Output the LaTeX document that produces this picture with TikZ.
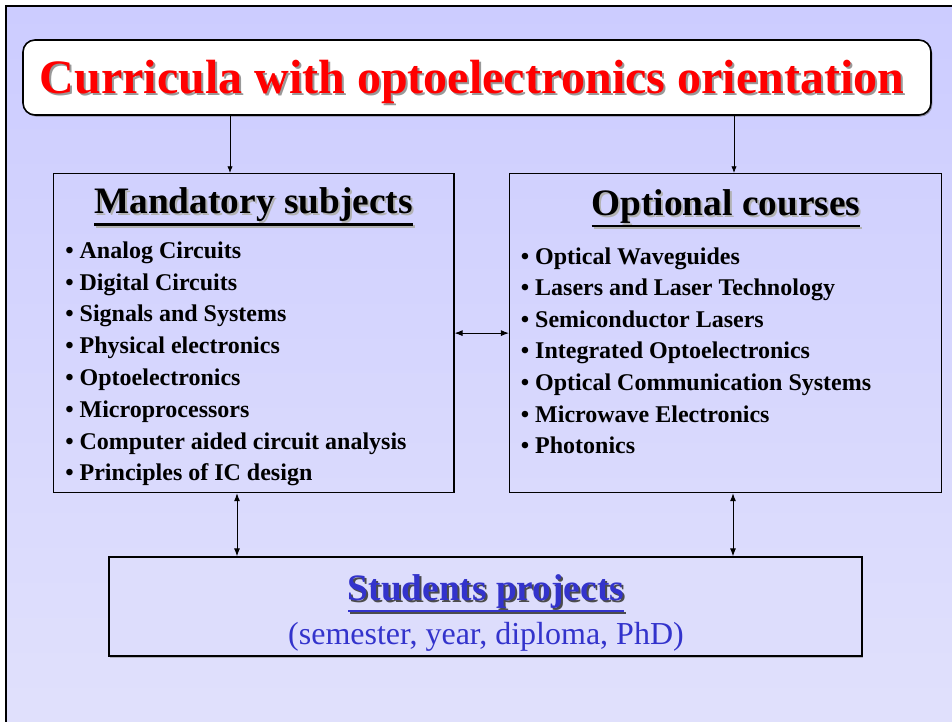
\documentclass[tikz,border=0pt]{standalone}
\usepackage{fontspec}
\setmainfont{Liberation Serif}
\usetikzlibrary{arrows.meta,shadows}
\definecolor{framtop}{RGB}{204,204,255}
\definecolor{frambot}{RGB}{225,225,252}
\definecolor{projfill}{RGB}{221,221,252}
\definecolor{titlered}{RGB}{255,0,0}
\definecolor{projblue}{RGB}{51,51,204}
\newcommand{\ulbox}[1]{\vtop{\hbox{#1}\kern1.2pt\hrule height 2.2pt}}
\newcommand{\shtext}[3]{\makebox[0pt][l]{\hspace{1.5pt}\raisebox{-1.5pt}{\color{#2}#3}}{\color{#1}#3}}
\begin{document}
\begin{tikzpicture}[x=0.75pt,y=-0.75pt,
  box/.style={draw, line width=0.8pt, inner sep=0pt, minimum height=239.4pt},
  titlebox/.style={draw, fill=white, line width=1.2pt, rounded corners=9pt,
    minimum width=681pt, minimum height=56.25pt,
    drop shadow={shadow xshift=1pt, shadow yshift=-1.2pt, fill=black!60, opacity=0.6}},
  projbox/.style={draw, fill=projfill, line width=1.5pt, minimum width=564.75pt, minimum height=74pt,
    drop shadow={shadow xshift=1pt, shadow yshift=-1.2pt, fill=black!50, opacity=0.5}},
  head/.style={anchor=base, inner sep=0pt, font=\fontsize{28}{32}\selectfont\bfseries},
  item/.style={anchor=base west, inner sep=0pt, font=\fontsize{18}{20}\selectfont\bfseries},
  arr/.style={-{Latex[length=5pt,width=4pt]}, line width=0.6pt},
  darr/.style={{Latex[length=6pt,width=4.5pt]}-{Latex[length=6pt,width=4.5pt]}, line width=0.7pt}]
\useasboundingbox (0,0) rectangle (952,721);
\clip (0,0) rectangle (952,721);
\draw[line width=1.5pt, top color=framtop, bottom color=frambot] (6,6) rectangle (970,740);

\node[titlebox] (title) at (477,77.5) {};
\node[anchor=base, inner sep=0pt, font=\fontsize{36}{40}\selectfont\bfseries] (titletxt) at (472,93)
  {\shtext{titlered}{gray!80}{Curricula with optoelectronics orientation}};

\node[box, minimum width=300.4pt] (mand) at (253.75,333.1) {};
\node[box, minimum width=324.2pt] (opt) at (725.6,333.1) {};
\node[projbox] (studs) at (485.5,606.7) {};

\node[head] (mhead) at (253.5,213) {\shtext{black}{gray!60}{\ulbox{Mandatory subjects}}};
\node[head] (ohead) at (726,215) {\shtext{black}{gray!60}{\ulbox{Optional courses}}};

\foreach \t [count=\i] in {Analog Circuits, Digital Circuits, Signals and Systems,
  Physical electronics, Optoelectronics, Microprocessors,
  Computer aided circuit analysis, Principles of IC design}
  \node[item] (m\i) at (65,226.5+31.8*\i) {\textbullet\ \t};

\foreach \t [count=\i] in {Optical Waveguides, Lasers and Laser Technology,
  Semiconductor Lasers, Integrated Optoelectronics,
  Optical Communication Systems, Microwave Electronics, Photonics}
  \node[item] (o\i) at (520.5,232.4+31.6*\i) {\textbullet\ \t};

\node[head] (shead) at (486,600) {\shtext{projblue}{black!70}{\ulbox{Students projects}}};
\node[anchor=base, inner sep=0pt, font=\fontsize{24}{28}\selectfont, text=projblue] (ssub) at (486,644)
  {(semester, year, diploma, PhD)};

\coordinate (cl) at (230,0);
\coordinate (cr) at (734,0);
\coordinate (bl) at (237,0);
\coordinate (br) at (733,0);
\draw[arr] (title.south -| cl) -- (mand.north -| cl);
\draw[arr] (title.south -| cr) -- (opt.north -| cr);
\draw[darr] (mand.east) -- (opt.west);
\draw[darr] (mand.south -| bl) -- (studs.north -| bl);
\draw[darr] (opt.south -| br) -- (studs.north -| br);
\end{tikzpicture}
\end{document}
